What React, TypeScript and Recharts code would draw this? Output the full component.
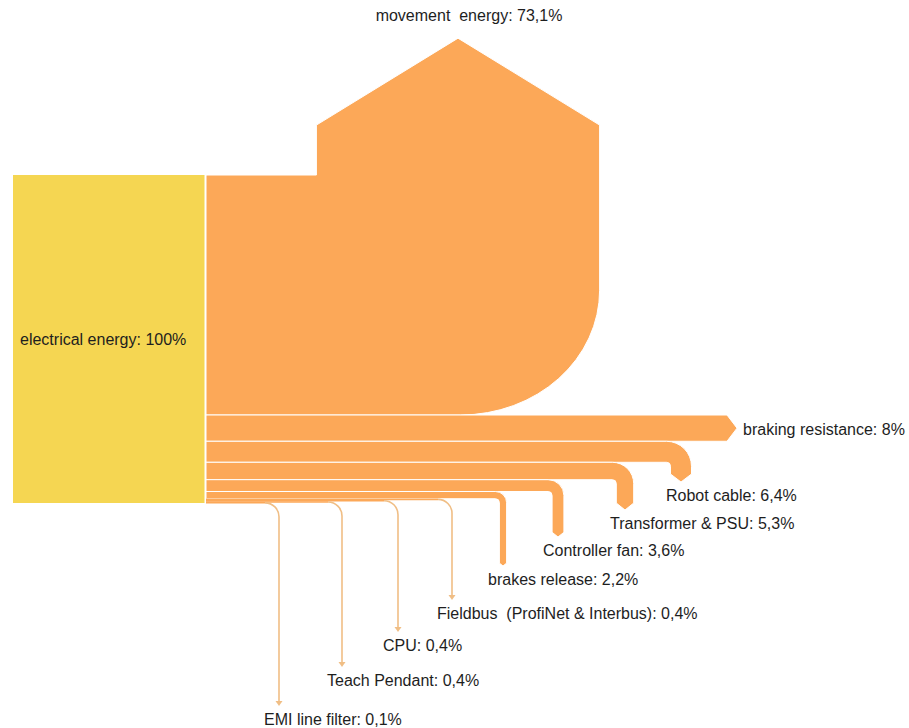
import { Sankey } from "recharts";

// source of the flow
const sourceName = "electrical energy";
const sourceValue = 100;

// where the energy goes (top to bottom, as stacked on the source)
const flowNames = [
  "movement  energy",
  "braking resistance",
  "Robot cable",
  "Transformer & PSU",
  "Controller fan",
  "brakes release",
  "Fieldbus  (ProfiNet & Interbus)",
  "CPU",
  "Teach Pendant",
  "EMI line filter",
];
const flowValues = [73.1, 8, 6.4, 5.3, 3.6, 2.2, 0.4, 0.4, 0.4, 0.1];

const YELLOW = "#F5D652";
const ORANGE = "#FCA858";
const THIN = "#F0BE85";
const TEXT = "#1e1e1e";
const FONT = "'Liberation Sans', Arial, sans-serif";

// layout of the downward arrows, from Robot cable to EMI line filter
const dropX = [681, 625, 558, 503, 452, 398, 342, 279];
const dropTip = [482, 510, 537, 566, 600, 632, 667, 706];
const BRAKE_TIP = 737;

const pct = (v: number) => String(v).replace(".", ",") + "%";

const data = {
  nodes: [{ name: sourceName }, ...flowNames.map((name) => ({ name }))],
  links: flowValues.map((value, i) => ({ source: 0, target: i + 1, value })),
};

function Label({ x, y, children, anchor = "start" }: any) {
  return (
    <text
      x={x}
      y={y}
      textAnchor={anchor}
      dominantBaseline="central"
      fontFamily={FONT}
      fontSize={16}
      fill={TEXT}
      style={{ whiteSpace: "pre" }}
    >
      {children}
    </text>
  );
}

function EnergyNode(props: any) {
  const { x, y, width, height, payload } = props;
  if (payload.name !== sourceName) return <g />;
  return (
    <g>
      <rect x={x} y={y} width={width - 1.5} height={height} fill={YELLOW} />
      <Label x={x + 7} y={y + height / 2}>
        {`${sourceName}: ${pct(sourceValue)}`}
      </Label>
    </g>
  );
}

function FlowLink(props: any) {
  const { sourceX, sourceY, linkWidth, payload } = props;
  const i = flowNames.indexOf(payload.target.name);
  const w = linkWidth;
  const y0 = sourceY - w / 2;
  const y1 = sourceY + w / 2;
  const text = `${flowNames[i]}: ${pct(flowValues[i])}`;

  if (i === 0) {
    // main flow turning upwards into a big arrow
    const colL = sourceX + 0.46 * w;
    const colR = sourceX + 1.64 * w;
    const shoulder = y0 - 0.208 * w;
    const peak = y0 - 0.57 * w;
    const peakX = (colL + colR) / 2;
    const rx = 0.58 * w;
    const ry = 0.52 * w;
    const d = `M${sourceX},${y0} H${colL} V${shoulder} L${peakX},${peak} L${colR},${shoulder} V${y1 - ry} A${rx},${ry} 0 0 1 ${colR - rx},${y1} H${sourceX} Z`;
    return (
      <g>
        <path d={d} fill={ORANGE} stroke="#fff" strokeWidth={1} />
        <Label x={peakX + 11} y={peak - 23} anchor="middle">
          {text}
        </Label>
      </g>
    );
  }

  if (i === 1) {
    const headX = BRAKE_TIP - 10;
    const d = `M${sourceX},${y0} H${headX} L${BRAKE_TIP},${sourceY} L${headX},${y1} H${sourceX} Z`;
    return (
      <g>
        <path d={d} fill={ORANGE} stroke="#fff" strokeWidth={1} />
        <Label x={BRAKE_TIP + 6} y={sourceY + 1}>
          {text}
        </Label>
      </g>
    );
  }

  const rank = i - 2;
  const cx = dropX[rank];
  const tip = dropTip[rank];
  const label = (
    <Label x={cx - 15} y={tip + 13}>
      {text}
    </Label>
  );

  if (w >= 3) {
    const r = 4;
    const R = w + r;
    const h = Math.min(w * 0.4, 8);
    const xl = cx - w / 2;
    const xr = cx + w / 2;
    const d = `M${sourceX},${y0} H${xl - r} A${R},${R} 0 0 1 ${xr},${y0 + R} V${tip - h} L${cx},${tip} L${xl},${tip - h} V${y1 + r} A${r},${r} 0 0 0 ${xl - r},${y1} H${sourceX} Z`;
    return (
      <g>
        <path d={d} fill={ORANGE} stroke="#fff" strokeWidth={1} />
        {label}
      </g>
    );
  }

  // very small flows: thin line with a small arrow head
  const R = 14;
  const sw = Math.max(w, 1.2);
  return (
    <g>
      <path d={`M${sourceX},${sourceY} H${cx - R}`} stroke={ORANGE} strokeWidth={sw + 0.3} fill="none" />
      <path
        d={`M${cx - R},${sourceY} A${R},${R} 0 0 1 ${cx},${sourceY + R} V${tip - 4}`}
        stroke={THIN}
        strokeWidth={1.6}
        fill="none"
      />
      <path d={`M${cx - 3.5},${tip - 5} L${cx + 3.5},${tip - 5} L${cx},${tip} Z`} fill={THIN} />
      {label}
    </g>
  );
}

export default function App() {
  return (
    <div style={{ position: "absolute", left: 0, top: 0, width: 909, height: 728, background: "#fff" }}>
      <Sankey
        width={909}
        height={728}
        data={data}
        margin={{ top: 175, left: 13, right: 0, bottom: 225 }}
        nodeWidth={193}
        nodePadding={0}
        iterations={0}
        node={EnergyNode}
        link={FlowLink}
      />
    </div>
  );
}
